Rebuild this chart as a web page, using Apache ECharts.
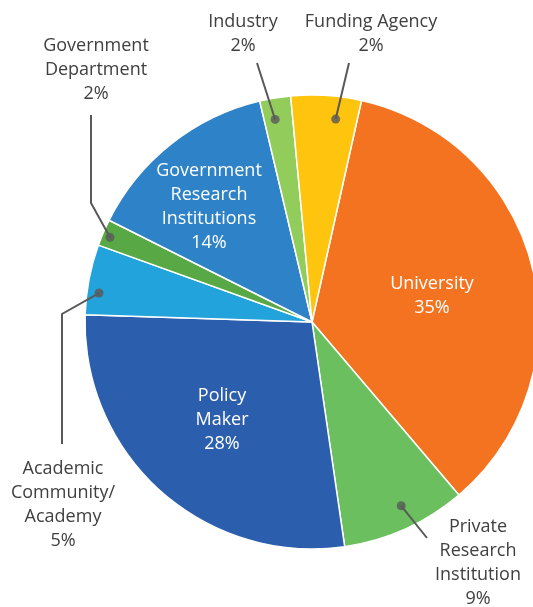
<!DOCTYPE html>
<html><head><meta charset="utf-8">
<script src="https://cdn.jsdelivr.net/npm/echarts@6/dist/echarts.min.js"></script>
<style>html,body{margin:0;padding:0;background:#fff}#c{width:533px;height:607px}</style>
</head><body><div id="c"></div>
<script>
// ---- data ----
const categories = ['University','Private Research Institution','Policy Maker','Academic Community/Academy','Government Department','Government Research Institutions','Industry','Funding Agency'];
const labelNames = ['University','Private\nResearch\nInstitution','Policy\nMaker','Academic\nCommunity/\nAcademy','Government\nDepartment','Government\nResearch\nInstitutions','Industry','Funding Agency'];
const values = [35.3, 8.9, 27.8, 5.0, 1.9, 13.9, 2.2, 5.0];
const shownPercent = ['35%','9%','28%','5%','2%','14%','2%','2%'];

// ---- style / layout ----
const colors = ['#F47320','#6BBF5F','#2B5EAC','#22A3DC','#58A946','#2D82C8','#92CC5B','#FFC40D'];
const insideLabel = [true,false,true,false,false,true,false,false];
const CX = 312, CY = 322, R = 227, START = 77.4;
// where the leader dot sits inside its slice: fraction along the slice, fraction of radius
const dotAlong = [0.5, 0.45, 0.5, 0.33, 0.43, 0.5, 0.38, 0.67];
const dotRad   = [0.9, 0.90, 0.9, 0.947, 0.965, 0.9, 0.907, 0.90];
const labelAnchor = [[432,296],[478,563],[222,420],[63,505],[96,70],[209,207],[243,34],[371,34]];
const lineBends = {1:[[-51,-25]], 3:[[-1,-191],[-1,-61]], 4:[[-5,133],[-5,45]], 6:[[14,29]], 7:[[-22,29]]};

const total = values.reduce((a,b)=>a+b,0);
let cum = 0; const dotPoint = []; const dotData = [];
values.forEach((v,i)=>{
  dotPoint.push([dotRad[i], cum + v*dotAlong[i]]);
  if(!insideLabel[i]) dotData.push(dotPoint[i]);
  cum += v;
});

function manualPixel(p){
  const ang = (90 - START) * Math.PI/180 + p[1]/total*2*Math.PI;
  return [CX + R*p[0]*Math.sin(ang), CY - R*p[0]*Math.cos(ang)];
}

const basePie = categories.map((n,i)=>({name:n, value:values[i], itemStyle:{color:colors[i]}}));
const labelPie = categories.map((n,i)=>({
  name: n, value: values[i],
  label: insideLabel[i] ? {position:'inside', color:'#ffffff'} : {position:'outside', color:'#404040'},
  labelLine: {show: !insideLabel[i]}
}));

const chart = echarts.init(document.getElementById('c'), null, {renderer:'canvas'});
chart.setOption({
  animation: false,
  backgroundColor: '#ffffff',
  polar: {center:[CX,CY], radius:R},
  angleAxis: {type:'value', min:0, max:total, startAngle:START, clockwise:true, show:false},
  radiusAxis: {type:'value', min:0, max:1, show:false},
  series: [{
    type: 'pie', center: [CX, CY], radius: R, startAngle: START, clockwise: true,
    silent: true, z: 1,
    data: basePie,
    itemStyle: {borderColor:'#ffffff', borderWidth:1.5},
    label: {show:false}, labelLine: {show:false}
  }, {
    type: 'pie', center: [CX, CY], radius: R, startAngle: START, clockwise: true,
    avoidLabelOverlap: false, silent: true, z: 3,
    data: labelPie,
    itemStyle: {color:'rgba(0,0,0,0)', borderWidth:0},
    label: {
      fontFamily: 'Open Sans', fontSize: 18, lineHeight: 24, align: 'center',
      formatter: p => labelNames[p.dataIndex] + '\n' + shownPercent[p.dataIndex]
    },
    labelLine: {length: 20, length2: 10, lineStyle: {color:'#595959', width:2}},
    labelLayout: function (p) {
      const i = p.dataIndex, a = labelAnchor[i];
      const out = {x: a[0], y: a[1], align: 'center', verticalAlign: 'middle'};
      if (!insideLabel[i]) {
        let s = null;
        try { s = chart.convertToPixel({polarIndex:0}, dotPoint[i]); } catch(e) { s = null; }
        if (!s || isNaN(s[0])) s = manualPixel(dotPoint[i]);
        const b = lineBends[i].map(d => [a[0]+d[0], a[1]+d[1]]);
        while (b.length < 2) b.push(b[b.length-1]);
        out.labelLinePoints = [s, b[0], b[1]];
      }
      return out;
    }
  }, {
    type: 'scatter', coordinateSystem: 'polar',
    data: dotData, symbol: 'circle', symbolSize: 9, silent: true, z: 5,
    itemStyle: {color:'#595959'}
  }]
});
</script></body></html>
